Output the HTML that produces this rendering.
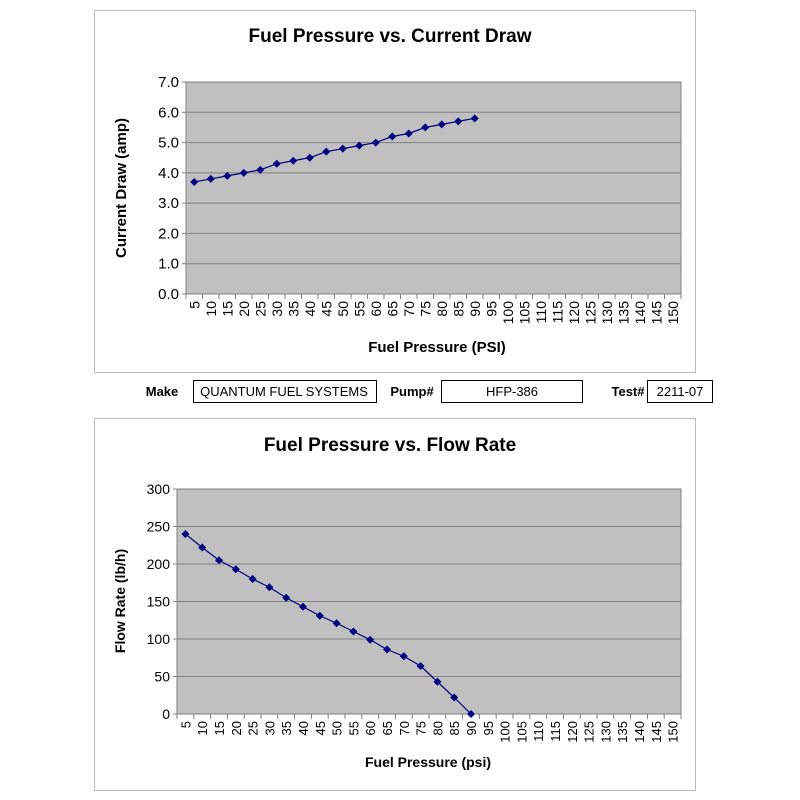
<!DOCTYPE html>
<html><head><meta charset="utf-8"><style>
html,body{margin:0;padding:0;background:#fff}
svg{display:block}
text{font-family:"Liberation Sans",Arial,sans-serif;fill:#000}
</style></head><body>
<svg id="s" width="800" height="800" viewBox="0 0 800 800">
<rect x="94.5" y="10.5" width="601" height="362" fill="#fff" stroke="#bbb"/>
<rect x="94.5" y="418.5" width="601" height="372" fill="#fff" stroke="#bbb"/>
<text x="390" y="42" font-size="19" font-weight="bold" text-anchor="middle">Fuel Pressure vs. Current Draw</text>
<text x="390" y="451" font-size="19" font-weight="bold" text-anchor="middle">Fuel Pressure vs. Flow Rate</text>
<text x="437" y="352" font-size="15" font-weight="bold" text-anchor="middle">Fuel Pressure (PSI)</text>
<text x="428" y="767" font-size="14" font-weight="bold" text-anchor="middle">Fuel Pressure (psi)</text>
<text transform="translate(126,188) rotate(-90)" font-size="15" font-weight="bold" text-anchor="middle">Current Draw (amp)</text>
<text transform="translate(125,601) rotate(-90)" font-size="14" font-weight="bold" text-anchor="middle">Flow Rate (lb/h)</text>
<text x="162" y="396" font-size="13" font-weight="bold" text-anchor="middle">Make</text>
<rect x="193.5" y="380.5" width="183" height="22" fill="#fff" stroke="#000"/>
<text x="284" y="396" font-size="13" text-anchor="middle">QUANTUM FUEL SYSTEMS</text>
<text x="412" y="396" font-size="13" font-weight="bold" text-anchor="middle">Pump#</text>
<rect x="441.5" y="380.5" width="141" height="22" fill="#fff" stroke="#000"/>
<text x="512" y="396" font-size="13" text-anchor="middle">HFP-386</text>
<text x="628" y="396" font-size="13" font-weight="bold" text-anchor="middle">Test#</text>
<rect x="647.5" y="380.5" width="65" height="22" fill="#fff" stroke="#000"/>
<text x="680" y="396" font-size="13" text-anchor="middle">2211-07</text>
<g id="g"></g>
</svg>
<script>
var g=document.getElementById('g'),h='';
function chart(L,R,T,B,max,step,fmt,data,fs,ls){
 var cw=(R-L)/30;
 h+='<rect x="'+L+'" y="'+T+'" width="'+(R-L)+'" height="'+(B-T)+'" fill="#c0c0c0" stroke="#808080"/>';
 for(var v=0;v<=max+1e-9;v+=step){var y=B-(v/max)*(B-T);
  h+='<line x1="'+(L-4)+'" x2="'+R+'" y1="'+y+'" y2="'+y+'" stroke="#808080"/>';
  h+='<text x="'+(L-7)+'" y="'+(y+5)+'" font-size="'+fs+'" text-anchor="end">'+fmt(v)+'</text>';}
 h+='<line x1="'+L+'" x2="'+R+'" y1="'+B+'" y2="'+B+'" stroke="#808080"/>';
 for(var i=0;i<=30;i++){var x=L+i*cw;h+='<line x1="'+x+'" x2="'+x+'" y1="'+B+'" y2="'+(B+5)+'" stroke="#808080"/>';
  if(i<30){var cx=L+(i+.5)*cw;h+='<text transform="translate('+(cx+5)+','+(B+7)+') rotate(-90)" font-size="'+ls+'" text-anchor="end">'+(5+5*i)+'</text>';}}
 var p=data.map(function(d,i){return [L+(i+.5)*cw,B-(d/max)*(B-T)]});
 h+='<polyline fill="none" stroke="#000080" stroke-width="1.2" points="'+p.map(function(q){return q.join(',')}).join(' ')+'"/>';
 p.forEach(function(q){h+='<path d="M'+q[0]+','+(q[1]-4)+'l4,4l-4,4l-4,-4z" fill="#000080"/>'});
}
chart(186,681,82,294,7,1,function(v){return v.toFixed(1)},[3.7,3.8,3.9,4.0,4.1,4.3,4.4,4.5,4.7,4.8,4.9,5.0,5.2,5.3,5.5,5.6,5.7,5.8],15,14);
chart(177,681,489,714,300,50,function(v){return Math.round(v)},[240,222,205,193,180,169,155,143,131,121,110,99,86,77,64,43,22,0],14,13);
g.innerHTML=h;
</script>
</body></html>
